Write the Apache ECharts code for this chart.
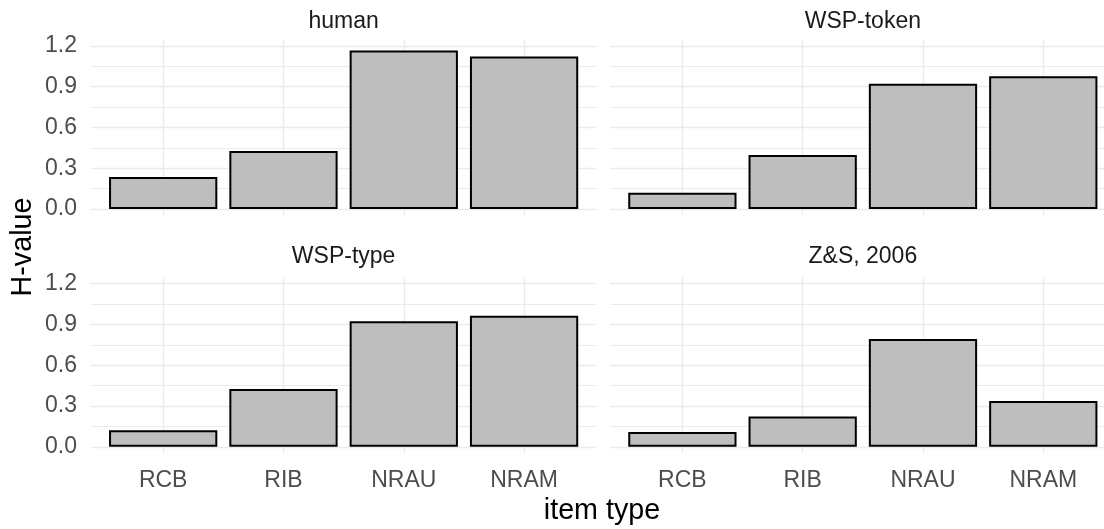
<!DOCTYPE html>
<html>
<head>
<meta charset="utf-8">
<script src="https://cdn.jsdelivr.net/npm/echarts@6/dist/echarts.min.js"></script>
<style>
  html, body { margin: 0; padding: 0; background: #ffffff; }
  #chart { width: 1104px; height: 529px; }
</style>
</head>
<body>
<div id="chart"></div>
<script>
// ---- data ----
const categories = ['RCB', 'RIB', 'NRAU', 'NRAM'];
const panelTitles = ['human', 'WSP-token', 'WSP-type', 'Z&S, 2006'];
const human    = [0.235, 0.426, 1.166, 1.122];
const wspToken = [0.120, 0.397, 0.921, 0.977];
const wspType  = [0.122, 0.425, 0.924, 0.963];
const zs       = [0.108, 0.222, 0.792, 0.337];
const yMin = 0, yMax = 1.2, yStep = 0.3;
const xTitle = 'item type';
const yTitle = 'H-value';

// ---- layout ----
const panelData = [human, wspToken, wspType, zs];
const FONT = "'Liberation Sans', Arial, sans-serif";
const unit = 120.3;                 // px per category
const panelLeft = [91, 610.2];
const panelW = 4.2 * unit;
const rowTop = [45.8, 283.6];       // pixel of 1.2
const rowZero = [209, 446.8];       // pixel of 0.0
const ext = 6.4;                    // panel extension beyond data range
const gridColor = '#ebebeb';

const grids = [], xAxes = [], yAxes = [], series = [], graphics = [];

for (let i = 0; i < 4; i++) {
  const col = i % 2, row = Math.floor(i / 2);
  const top = rowTop[row], zero = rowZero[row];
  const h = zero - top;
  const ppu = h / (yMax - yMin);
  const gA = 2 * i, gB = 2 * i + 1;

  // background grid: horizontal gridlines + y labels
  grids.push({ left: panelLeft[col], top: top, width: panelW, height: h });
  xAxes.push({ gridIndex: gA, type: 'value', show: false, min: 0, max: 1 });
  yAxes.push({
    gridIndex: gA, type: 'value', min: yMin, max: yMax, interval: yStep,
    axisLine: { show: false }, axisTick: { show: false },
    axisLabel: {
      show: col === 0, formatter: v => v.toFixed(1),
      color: '#4d4d4d', fontSize: 23, fontFamily: FONT, margin: 14,
      padding: [5, 0, 0, 0]
    },
    splitLine: { show: true, lineStyle: { color: gridColor, width: 1.4 } },
    minorTick: { show: false, splitNumber: 2 },
    minorSplitLine: { show: true, lineStyle: { color: gridColor, width: 1.1 } }
  });

  // data grid: spans category centres; vertical gridlines at categories
  grids.push({
    left: panelLeft[col] + 0.6 * unit, top: top - ext,
    width: 3 * unit, height: h + 2 * ext
  });
  xAxes.push({
    gridIndex: gB, type: 'category', data: categories, boundaryGap: false,
    axisLine: { show: false }, axisTick: { show: false },
    axisLabel: {
      show: row === 1, interval: 0, color: '#4d4d4d', fontSize: 23,
      fontFamily: FONT, margin: 27.8, verticalAlign: 'middle'
    },
    splitLine: { show: true, interval: 0, lineStyle: { color: gridColor, width: 1.4 } }
  });
  yAxes.push({
    gridIndex: gB, type: 'value', show: false,
    min: yMin - ext / ppu, max: yMax + ext / ppu,
    splitLine: { show: false }
  });
  series.push({
    type: 'bar', xAxisIndex: gB, yAxisIndex: gB,
    data: panelData[i], barWidth: 0.9 * unit, clip: false, silent: true,
    itemStyle: { color: '#bebebe', borderColor: '#000000', borderWidth: 2 }
  });

  // strip title
  graphics.push({
    type: 'text', x: panelLeft[col] + panelW / 2, y: row === 0 ? 21.5 : 257,
    style: { text: panelTitles[i], fill: '#1a1a1a', font: '23px ' + FONT,
             textAlign: 'center', textVerticalAlign: 'middle' }
  });
}

graphics.push({
  type: 'text', x: 602, y: 511,
  style: { text: xTitle, fill: '#000000', font: '28.7px ' + FONT,
           textAlign: 'center', textVerticalAlign: 'middle' }
});
graphics.push({
  type: 'text', x: 23, y: 247, rotation: Math.PI / 2,
  style: { text: yTitle, fill: '#000000', font: '28.7px ' + FONT,
           textAlign: 'center', textVerticalAlign: 'middle' }
});

const chart = echarts.init(document.getElementById('chart'), null, { renderer: 'canvas' });
chart.setOption({
  animation: false,
  backgroundColor: '#ffffff',
  grid: grids, xAxis: xAxes, yAxis: yAxes, series: series,
  graphic: graphics
});
</script>
</body>
</html>
